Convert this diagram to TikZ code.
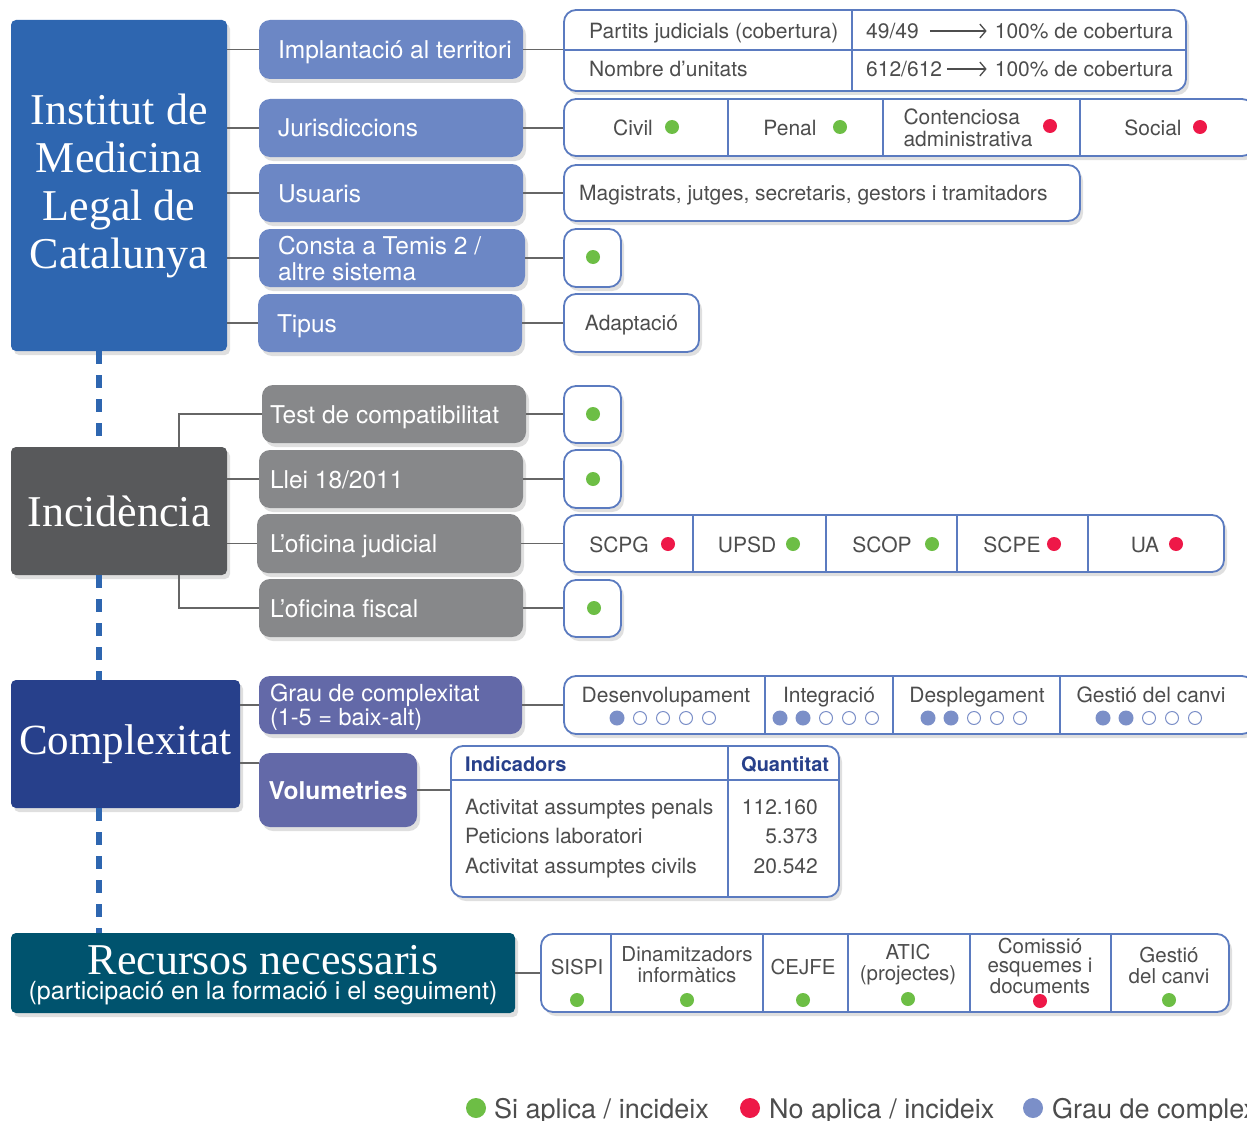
\documentclass[tikz,border=0pt]{standalone}
\usepackage{fontspec}
\setsansfont{TeX Gyre Heros}
\newfontfamily\titlef{Liberation Serif}
\usetikzlibrary{shadows,arrows.meta}
\definecolor{instblue}{HTML}{2E66B0}
\definecolor{lav}{HTML}{6C87C5}
\definecolor{bord}{HTML}{5B7BC0}
\definecolor{dgray}{HTML}{58595B}
\definecolor{mgray}{HTML}{87888A}
\definecolor{navyc}{HTML}{27408B}
\definecolor{purp}{HTML}{6369A8}
\definecolor{tealc}{HTML}{00536E}
\definecolor{okgreen}{HTML}{6DBE45}
\definecolor{nored}{HTML}{EE1848}
\definecolor{dotblue}{HTML}{7B8FC8}
\definecolor{txtc}{HTML}{4D4D4D}
\definecolor{connc}{HTML}{666666}
\newcommand{\bx}[7]{\node[#6, minimum width={(#4)-(#2)}, minimum height={(#5)-(#3)}] (#1) at ({((#2)+(#4))/2},{((#3)+(#5))/2}) {#7};}
\newcommand{\dotG}[2]{\fill[okgreen] (#1,#2) circle[radius=7pt];}
\newcommand{\dotR}[2]{\fill[nored] (#1,#2) circle[radius=7pt];}
\newcommand{\dotF}[2]{\fill[dotblue] (#1,#2) circle[radius=7.5pt];}
\newcommand{\dotO}[2]{\draw[dotblue, line width=1pt] (#1,#2) circle[radius=6.5pt];}
\begin{document}
\begin{tikzpicture}[x=1pt,y=-1pt,
  shd/.style={drop shadow={shadow xshift=3pt,shadow yshift=-4pt,opacity=0.25}},
  head/.style={rectangle, rounded corners=5pt, shd, text=white, inner sep=0pt,
    font=\titlef\fontsize{44}{48}\selectfont, align=center},
  sub/.style={rectangle, rounded corners=11pt, shd, inner sep=0pt},
  subtxt/.style={text=white, font=\sffamily\fontsize{24.5}{26}\selectfont, inner sep=0pt, anchor=west, align=left},
  subtxt1/.style={subtxt, text height=18pt, text depth=0pt},
  cellbox/.style={rectangle, rounded corners=12pt, draw=bord, line width=1.8pt, fill=white, shd, inner sep=0pt},
  lf/.style={text=txtc, font=\sffamily\fontsize{21}{21}\selectfont},
  lbl/.style={lf, inner sep=0pt, text height=15.5pt, text depth=0pt},
  lblm/.style={lf, inner sep=0pt, align=center},
  conn/.style={draw=connc, line width=1.5pt},
  sepl/.style={draw=bord, line width=1.5pt},
  vdash/.style={draw=instblue, line width=6pt, dash pattern=on 13pt off 11pt},
  arr/.style={draw=txtc, line width=1.3pt, -{Straight Barb[length=6pt,width=14pt,line width=1.3pt]}},
  leg/.style={text=txtc, font=\sffamily\fontsize{27}{27}\selectfont, inner sep=0pt, anchor=west, text height=20pt, text depth=0pt}
]
\useasboundingbox (0,0) rectangle (1247,1121);
\clip (0,0) rectangle (1247,1121);
\fill[white] (0,0) rectangle (1247,1121);

% ---------------- Institut ----------------
\bx{inst}{11}{20}{227}{351}{head, fill=instblue}{Institut de\\Medicina\\Legal de\\Catalunya}
\bx{impl}{259}{20}{523}{79}{sub, fill=lav}{}
\node[subtxt1] (timpl) at ([xshift=19pt]impl.west) {Implantació al territori};
\bx{jur}{259}{99}{523}{157}{sub, fill=lav}{}
\node[subtxt1] (tjur) at ([xshift=19pt]jur.west) {Jurisdiccions};
\bx{usu}{259}{164}{523}{222}{sub, fill=lav}{}
\node[subtxt1] (tusu) at ([xshift=19pt]usu.west) {Usuaris};
\bx{cons}{259}{229}{525}{287}{sub, fill=lav}{}
\node[subtxt] (tcons) at ([xshift=19pt,yshift=-1pt]cons.west) {Consta a Temis 2 /\\altre sistema};
\bx{tip}{258}{294}{522}{352}{sub, fill=lav}{}
\node[subtxt1] (ttip) at ([xshift=19pt]tip.west) {Tipus};

\foreach \n in {impl,jur,usu,cons,tip}{\draw[conn] (\n.west) -- (\n.west -| inst.east);}

% table 1
\bx{tab}{564}{10}{1186}{91}{cellbox}{}
\draw[sepl] (564,50) -- (1186,50);
\draw[sepl] (852,10) -- (852,91);
\node[lbl, anchor=west] (p1) at (589,31) {Partits judicials (cobertura)};
\node[lbl, anchor=west] (p2) at (589,69) {Nombre d’unitats};
\node[lbl, anchor=west] (n1) at (866,31) {49/49};
\node[lbl, anchor=east] (c1) at (1173,31) {100\% de cobertura};
\node[lbl, anchor=west] (n2) at (866,69) {612/612};
\node[lbl, anchor=east] (c2) at (1173,69) {100\% de cobertura};
\draw[arr] ([xshift=11pt]n1.east) -- ([xshift=-8pt]c1.west);
\draw[arr] ([xshift=5pt]n2.east) -- ([xshift=-8pt]c2.west);
\draw[conn] (impl.east) -- (impl.east -| tab.west);

% jurisdictions
\bx{jur2}{564}{99}{1254}{156}{cellbox}{}
\foreach \x in {728,883,1080}{\draw[sepl] (\x,99) -- (\x,156);}
\node[lbl] (civ) at (633,128) {Civil}; \dotG{672}{127}
\node[lbl] (pen) at (790,128) {Penal}; \dotG{840}{127}
\node[lf, inner sep=0pt, align=left, font=\sffamily\fontsize{21}{22}\selectfont] (cont) at (968,128) {Contenciosa\\administrativa}; \dotR{1050}{126}
\node[lbl] (soc) at (1153,128) {Social}; \dotR{1200}{127}
\draw[conn] (jur.east) -- (jur.east -| jur2.west);

\bx{usu2}{564}{165}{1080}{221}{cellbox}{}
\node[lbl, anchor=west] (musu) at (579,193) {Magistrats, jutges, secretaris, gestors i tramitadors};
\draw[conn] (usu.east) -- (usu.east -| usu2.west);

\bx{cons2}{564}{229}{621}{287}{cellbox}{}
\dotG{593}{257}
\draw[conn] (cons.east) -- (cons.east -| cons2.west);

\bx{tip2}{564}{294}{699}{352}{cellbox}{}
\node[lbl] (tadap) at (tip2.center) {Adaptació};
\draw[conn] (tip.east) -- (tip.east -| tip2.west);

% ---------------- Incidencia ----------------
\bx{inc}{11}{447}{227}{575}{head, fill=dgray}{Incidència}
\bx{test}{262}{385}{526}{443}{sub, fill=mgray}{}
\node[subtxt1] (ttest) at ([xshift=8pt]test.west) {Test de compatibilitat};
\bx{llei}{259}{450}{523}{508}{sub, fill=mgray}{}
\node[subtxt1] (tllei) at ([xshift=11pt]llei.west) {Llei 18/2011};
\bx{ojud}{257}{514}{521}{573}{sub, fill=mgray}{}
\node[subtxt1] (tojud) at ([xshift=13pt]ojud.west) {L’oficina judicial};
\bx{ofis}{259}{579}{523}{637}{sub, fill=mgray}{}
\node[subtxt1] (tofis) at ([xshift=11pt]ofis.west) {L’oficina fiscal};
\coordinate (incT) at ([xshift=-48pt]inc.north east);
\coordinate (incB) at ([xshift=-48pt]inc.south east);
\draw[conn] (incT) |- (test.west);
\draw[conn] (incB) |- (ofis.west);
\draw[conn] (llei.west) -- (llei.west -| inc.east);
\draw[conn] (ojud.west) -- (ojud.west -| inc.east);

\bx{test2}{564}{386}{621}{443}{cellbox}{} \dotG{593}{414}
\bx{llei2}{564}{450}{621}{508}{cellbox}{} \dotG{593}{479}
\bx{ofis2}{564}{580}{621}{637}{cellbox}{} \dotG{594}{608}
\bx{ojud2}{564}{515}{1224}{572}{cellbox}{}
\foreach \x in {693,826,957,1088}{\draw[sepl] (\x,515) -- (\x,572);}
\node[lbl] (scpg) at (619,545) {SCPG}; \dotR{668}{544}
\node[lbl] (upsd) at (747,545) {UPSD}; \dotG{793}{544}
\node[lbl] (scop) at (882,545) {SCOP}; \dotG{932}{544}
\node[lbl] (scpe) at (1012,545) {SCPE}; \dotR{1054}{544}
\node[lbl] (ua) at (1145,545) {UA}; \dotR{1176}{544}
\draw[conn] (test.east) -- (test.east -| test2.west);
\draw[conn] (llei.east) -- (llei.east -| llei2.west);
\draw[conn] (ojud.east) -- (ojud.east -| ojud2.west);
\draw[conn] (ofis.east) -- (ofis.east -| ofis2.west);

% ---------------- Complexitat ----------------
\bx{cpx}{11}{680}{240}{808}{head, fill=navyc, font=\titlef\fontsize{43}{48}\selectfont}{Complexitat}
\bx{grau}{259}{676}{522}{734}{sub, fill=purp}{}
\node[subtxt, font=\sffamily\fontsize{23.5}{24}\selectfont] (tgrau) at ([xshift=11pt,yshift=-2pt]grau.west) {Grau de complexitat\\(1-5 = baix-alt)};
\bx{vol}{259}{753}{417}{827}{sub, fill=purp}{}
\node[text=white, font=\sffamily\bfseries\fontsize{24.5}{26}\selectfont, inner sep=0pt, text height=18pt, text depth=0pt] (tvol) at (vol.center) {Volumetries};
\draw[conn] (grau.west) -- (grau.west -| cpx.east);
\draw[conn] ([yshift=-10pt]vol.north west) -- ([yshift=-10pt]vol.north west -| cpx.east);

\bx{grau2}{564}{676}{1254}{734}{cellbox}{}
\foreach \x in {765,893,1060}{\draw[sepl] (\x,676) -- (\x,734);}
\node[lbl] (desv) at (666,695) {Desenvolupament};
\node[lbl] (integ) at (829,695) {Integració};
\node[lbl] (despl) at (977,695) {Desplegament};
\node[lbl] (gest) at (1151,695) {Gestió del canvi};
\dotF{617}{718} \foreach \k in {1,...,4}{\dotO{617+23*\k}{718}}
\foreach \k in {0,1}{\dotF{780+23*\k}{718}} \foreach \k in {2,...,4}{\dotO{780+23*\k}{718}}
\foreach \k in {0,1}{\dotF{928+23*\k}{718}} \foreach \k in {2,...,4}{\dotO{928+23*\k}{718}}
\foreach \k in {0,1}{\dotF{1103+23*\k}{718}} \foreach \k in {2,...,4}{\dotO{1103+23*\k}{718}}
\draw[conn] (grau.east) -- (grau.east -| grau2.west);

\bx{vtab}{451}{746}{839}{897}{cellbox}{}
\draw[sepl] (451,780) -- (839,780);
\draw[sepl] (728,746) -- (728,897);
\node[lbl, anchor=west, text=navyc, font=\sffamily\bfseries\fontsize{20}{20}\selectfont, text height=14.8pt] (hind) at (465,764) {Indicadors};
\node[lbl, anchor=west, text=navyc, font=\sffamily\bfseries\fontsize{20}{20}\selectfont, text height=14.8pt] (hqua) at (741,764) {Quantitat};
\node[lbl, anchor=west] (r1) at (465,807) {Activitat assumptes penals};
\node[lbl, anchor=west] (r2) at (465,836) {Peticions laboratori};
\node[lbl, anchor=west] (r3) at (465,866) {Activitat assumptes civils};
\node[lbl, anchor=east] (v1) at (818,807) {112.160};
\node[lbl, anchor=east] (v2) at (818,836) {5.373};
\node[lbl, anchor=east] (v3) at (818,866) {20.542};
\draw[conn] (vol.east) -- (vol.east -| vtab.west);

% ---------------- Recursos ----------------
\bx{rec}{11}{933}{515}{1013}{head, fill=tealc}{}
\node[text=white, font=\titlef\fontsize{44}{44}\selectfont, inner sep=0pt, text height=29pt, text depth=0pt] (trec1) at (263,960) {Recursos necessaris};
\node[text=white, font=\sffamily\fontsize{25}{25}\selectfont, inner sep=0pt, text height=18.5pt, text depth=0pt] (trec2) at (263,990) {(participació en la formació i el seguiment)};
\bx{rrow}{541}{934}{1229}{1012}{cellbox}{}
\foreach \x in {611,763,848,970,1111}{\draw[sepl] (\x,934) -- (\x,1012);}
\node[lbl, font=\sffamily\fontsize{20.5}{20.5}\selectfont, text height=15pt] (sispi) at (577,967) {SISPI};
\node[lblm, font=\sffamily\fontsize{20.5}{21}\selectfont] (dina) at (687,965) {Dinamitzadors\\informàtics};
\node[lbl, font=\sffamily\fontsize{20.5}{20.5}\selectfont, text height=15pt] (cejfe) at (803,967) {CEJFE};
\node[lblm, font=\sffamily\fontsize{20.5}{21}\selectfont] (atic) at (908,965) {ATIC\\(projectes)};
\node[lblm, font=\sffamily\fontsize{20.5}{19}\selectfont] (comi) at (1040,966) {Comissió\\esquemes i\\documents};
\node[lblm, font=\sffamily\fontsize{20.5}{21}\selectfont] (gcan) at (1169,965) {Gestió\\del canvi};
\dotG{577}{1000} \dotG{687}{1000} \dotG{803}{1000} \dotG{908}{999} \dotR{1040}{1001} \dotG{1169}{1000}
\draw[conn] (rec.east) -- (rec.east -| rrow.west);

% dashed spine
\draw[vdash] ([xshift=-20pt]inst.south) -- ([xshift=-20pt]inc.north);
\draw[vdash] ([xshift=-20pt]inc.south) -- ([xshift=-26.5pt]cpx.north);
\draw[vdash] ([xshift=-26.5pt]cpx.south) -- ([xshift=-164pt]rec.north);

% legend
\fill[okgreen] (476,1108) circle[radius=10pt];
\node[leg] (lg1) at (494,1108) {Si aplica / incideix};
\fill[nored] (750,1108) circle[radius=10pt];
\node[leg] (lg2) at (769,1108) {No aplica / incideix};
\fill[dotblue] (1033,1108) circle[radius=10pt];
\node[leg] (lg3) at (1052,1108) {Grau de complexitat};
\end{tikzpicture}
\end{document}
